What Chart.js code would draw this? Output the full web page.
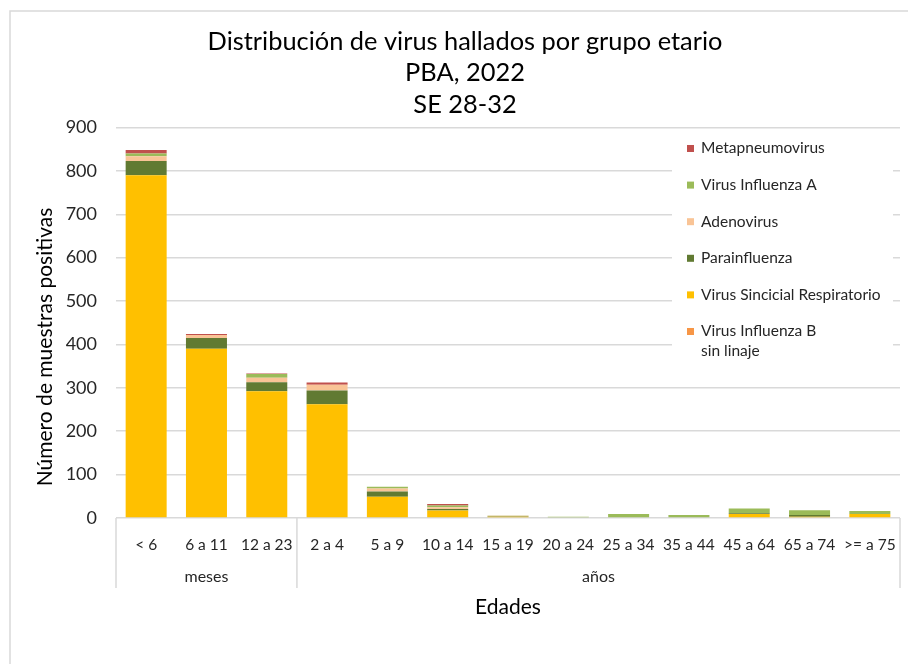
<!DOCTYPE html>
<html>
<head>
<meta charset="utf-8">
<script src="https://cdn.jsdelivr.net/npm/chart.js@4"></script>
<style>
  html, body { margin: 0; padding: 0; background: #fff; }
  #wrap { width: 908px; height: 664px; }
</style>
</head>
<body>
<div id="wrap"><canvas id="chart" width="908" height="664"></canvas></div>
<script>
'use strict';

// datos
const categories = ['< 6', '6 a 11', '12 a 23', '2 a 4', '5 a 9', '10 a 14', '15 a 19',
  '20 a 24', '25 a 34', '35 a 44', '45 a 64', '65 a 74', '>= a 75'];
const groupLabels = ['meses', 'años'];
const groupSizes = [3, 10];
const yTicks = [0, 100, 200, 300, 400, 500, 600, 700, 800, 900];

const influenzaB = [0, 0, 0, 0, 0, 0, 0, 0, 0, 0, 0, 0, 0];
const vsr = [790, 390, 292, 262, 49, 17, 3, 0, 2, 2, 9, 3, 9];
const parainfluenza = [33, 25, 21, 32, 12, 4, 1, 0, 0, 0, 2, 4, 0];
const adenovirus = [11, 7, 10, 13, 7, 4, 1, 0, 0, 0, 0, 0, 0];
const influenzaA = [6, 0, 9, 0, 4, 4, 1, 3, 7, 5, 11, 11, 7];
const metapneumovirus = [8, 2, 1, 5, 0, 3, 0, 0, 0, 0, 0, 0, 0];

const FONT = 'Lato, "Open Sans", sans-serif';
const TEXT = '#262626';
const Y_TITLE = 'Número de muestras positivas';

function serie(label, data, color) {
  return { label: label, data: data, backgroundColor: color, borderWidth: 0 };
}

// orden de apilado: de abajo hacia arriba
const datasets = [
  serie(['Virus Influenza B', 'sin linaje'], influenzaB, '#F79646'),
  serie('Virus Sincicial Respiratorio', vsr, '#FFC000'),
  serie('Parainfluenza', parainfluenza, '#617A32'),
  serie('Adenovirus', adenovirus, '#F9C496'),
  serie('Virus Influenza A', influenzaA, '#9BBB59'),
  serie('Metapneumovirus', metapneumovirus, '#C0504D')
];

// borde exterior del grafico y titulo del eje Y
const frame = {
  id: 'frame',
  beforeDraw(chart) {
    const ctx = chart.ctx;
    ctx.save();
    ctx.fillStyle = '#fff';
    ctx.fillRect(0, 0, chart.width, chart.height);
    ctx.strokeStyle = '#d9d9d9';
    ctx.lineWidth = 1.5;
    ctx.strokeRect(10, 11, chart.width + 10, chart.height + 10);
    // el titulo del eje Y en Excel queda algo mas abajo que el centro
    ctx.translate(45, 347);
    ctx.rotate(-Math.PI / 2);
    ctx.fillStyle = '#000';
    ctx.font = '21px ' + FONT;
    ctx.textAlign = 'center';
    ctx.textBaseline = 'middle';
    ctx.fillText(Y_TITLE, 0, 0);
    ctx.restore();
  }
};

// eje de categorias de dos niveles (meses / años)
const groupAxis = {
  id: 'groupAxis',
  afterDraw(chart) {
    const ctx = chart.ctx;
    const x = chart.scales.x;
    const area = chart.chartArea;
    const half = (x.getPixelForValue(1) - x.getPixelForValue(0)) / 2;
    ctx.save();
    ctx.strokeStyle = '#d9d9d9';
    ctx.lineWidth = 1.5;
    ctx.fillStyle = TEXT;
    ctx.font = '16px ' + FONT;
    ctx.textAlign = 'center';
    ctx.textBaseline = 'middle';
    let start = 0;
    const edges = [area.left];
    groupSizes.forEach((n, i) => {
      const a = x.getPixelForValue(start) - half;
      const b = x.getPixelForValue(start + n - 1) + half;
      ctx.fillText(groupLabels[i], (a + b) / 2, area.bottom + 59);
      edges.push(i === groupSizes.length - 1 ? area.right : b);
      start += n;
    });
    edges.forEach(e => {
      ctx.beginPath();
      ctx.moveTo(e, area.bottom);
      ctx.lineTo(e, area.bottom + 70);
      ctx.stroke();
    });
    ctx.restore();
  }
};

// leyenda dentro del area de trazado, arriba a la derecha
const insideLegend = {
  id: 'insideLegend',
  afterDraw(chart) {
    const ctx = chart.ctx;
    const area = chart.chartArea;
    const left = area.right - 228;
    const top = area.top + 4;
    ctx.save();
    ctx.fillStyle = '#fff';
    ctx.fillRect(left, top, 221, 238);
    ctx.font = '15.5px ' + FONT;
    ctx.textBaseline = 'middle';
    const items = chart.data.datasets.slice().reverse();
    items.forEach((ds, i) => {
      const y = top + 17 + i * 36.6;
      ctx.fillStyle = ds.backgroundColor;
      ctx.fillRect(left + 15, y - 3.5, 7, 7);
      ctx.fillStyle = TEXT;
      const lines = Array.isArray(ds.label) ? ds.label : [ds.label];
      lines.forEach((t, j) => ctx.fillText(t, left + 29, y + j * 20));
    });
    ctx.restore();
  }
};

const ctx = document.getElementById('chart').getContext('2d');
new Chart(ctx, {
  type: 'bar',
  data: { labels: categories, datasets: datasets },
  plugins: [frame, groupAxis, insideLegend],
  options: {
    responsive: false,
    animation: false,
    layout: { padding: { left: 30, right: 8, top: 0, bottom: 44 } },
    datasets: { bar: { categoryPercentage: 1, barPercentage: 0.68 } },
    plugins: {
      legend: { display: false },
      tooltip: { enabled: false },
      title: {
        display: true,
        text: ['Distribución de virus hallados por grupo etario', 'PBA, 2022', 'SE 28-32'],
        color: '#000',
        font: { family: FONT, size: 25.4, weight: 'normal', lineHeight: 1.24 },
        padding: { top: 26, bottom: 7 }
      }
    },
    scales: {
      x: {
        stacked: true,
        grid: { display: false },
        border: { display: false },
        ticks: { color: TEXT, font: { family: FONT, size: 15.5 }, padding: 10, maxRotation: 0, autoSkip: false },
        title: { display: true, text: 'Edades', color: '#000', font: { family: FONT, size: 21 }, padding: 0 },
        afterFit(s) { s.height = 102; }
      },
      y: {
        stacked: true,
        min: 0,
        max: 900,
        afterBuildTicks(s) { s.ticks = yTicks.map(v => ({ value: v })); },
        grid: { color: '#d9d9d9', lineWidth: 1.5, drawTicks: false },
        border: { display: false },
        ticks: { color: TEXT, font: { family: FONT, size: 18 }, padding: 19 },
        afterFit(s) { s.width = 86; }
      }
    }
  }
});
</script>
</body>
</html>
